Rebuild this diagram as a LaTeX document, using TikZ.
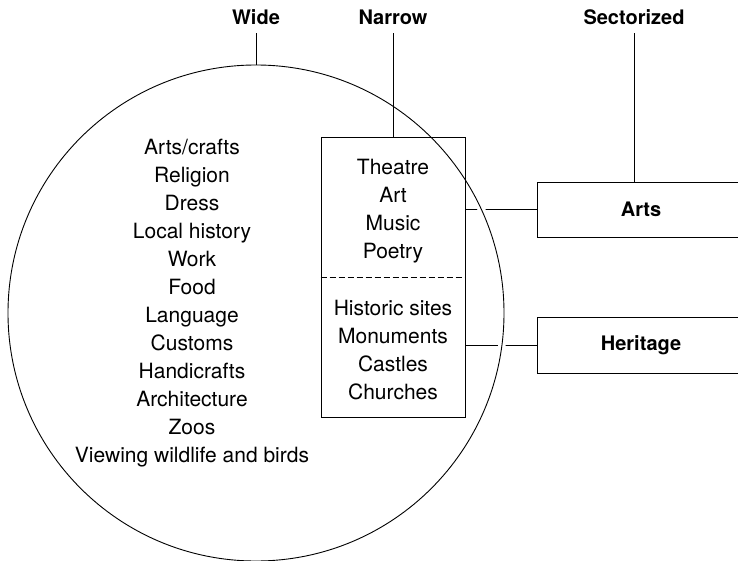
\documentclass[tikz,border=0pt]{standalone}
\usepackage{fontspec}
\setmainfont{TeX Gyre Heros}
\begin{document}
% connectors sit below the ring, whose white halo cuts them where it crosses
\pgfdeclarelayer{links}
\pgfdeclarelayer{ring}
\pgfsetlayers{links,ring,main}
\begin{tikzpicture}[x=1pt,y=-1pt,
  every node/.style={font=\fontsize{21}{28}\selectfont},
  head/.style={font=\fontsize{20}{28}\selectfont\bfseries, inner sep=8pt, anchor=base},
  list/.style={align=center, inner sep=0pt},
  box/.style={draw, rectangle, line width=0.9pt, inner sep=0pt},
  link/.style={line width=0.9pt},
  divider/.style={line width=0.9pt, dash pattern=on 6pt off 3pt},
]
\useasboundingbox (0,0) rectangle (738,561);

% column headings
\node[head] (wide) at (256,25) {Wide};
\node[head] (narrowhead) at (393,25) {Narrow};
\node[head] (sect) at (634,25) {Sectorized};

% narrow box, split into arts and heritage halves
\node[box, minimum width=144pt, minimum height=280pt] (narrow) at (393,277) {};
\draw[divider] (narrow.west) -- (narrow.east);
\node[list] (artlist) at (393,211) {Theatre\\Art\\Music\\Poetry};
\node[list] (herlist) at (393,350) {Historic sites\\Monuments\\Castles\\Churches};

% sector boxes, running off the right edge
\node[box, minimum width=208pt, minimum height=55pt, font=\fontsize{20}{28}\selectfont\bfseries] (arts) at (641,209.5) {Arts};
\node[box, minimum width=208pt, minimum height=56pt, font=\fontsize{20}{28}\selectfont\bfseries] (heritage) at (641,345) {Heritage};

% wide list inside the ring
\node[list] (general) at (192,303) {Arts/crafts\\Religion\\Dress\\Local history\\Work\\Food\\Language\\Customs\\Handicrafts\\Architecture\\Zoos\\Viewing wildlife and birds};

\begin{pgfonlayer}{links}
  \draw[link] (arts.west) -- (arts.west -| narrow.east);
  \draw[link] (heritage.west) -- (heritage.west -| narrow.east);
\end{pgfonlayer}

\begin{pgfonlayer}{ring}
  \node[circle, draw, line width=0.9pt, minimum size=496pt, inner sep=0pt,
        preaction={draw=white, line width=7.5pt}] (ring) at (256,313) {};
\end{pgfonlayer}

\draw[link] (wide.south) -- (ring.north);
\draw[link] (narrowhead.south) -- (narrow.north);
\draw[link] (sect.south) -- (sect.south |- arts.north);
\end{tikzpicture}
\end{document}
